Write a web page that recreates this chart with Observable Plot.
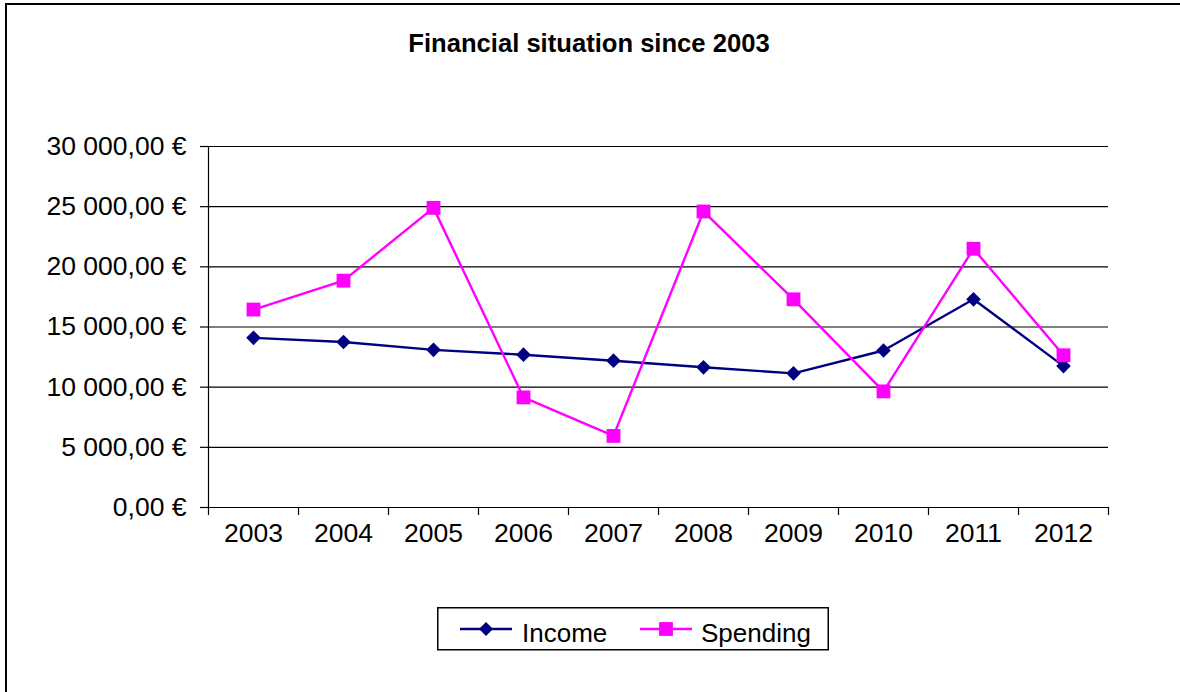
<!DOCTYPE html>
<html>
<head>
<meta charset="utf-8">
<script src="https://cdn.jsdelivr.net/npm/d3@7"></script>
<script src="https://cdn.jsdelivr.net/npm/@observablehq/plot@0.6"></script>
<style>
  html, body { margin: 0; padding: 0; background: #fff; }
  #wrap { position: relative; width: 1180px; height: 692px; overflow: hidden; font-family: "Liberation Sans", Arial, sans-serif; }
  #frame { position: absolute; left: 5px; top: 3px; width: 1300px; height: 800px; border-top: 2px solid #000; border-left: 2px solid #000; }
  #title { position: absolute; left: 0; width: 1178px; top: 31px; text-align: center; font-weight: bold; font-size: 25.6px; line-height: 1; color: #000; }
  #chart { position: absolute; left: 0; top: 0; }
  #legend { position: absolute; left: 437px; top: 607px; }
</style>
</head>
<body>
<div id="wrap">
  <div id="frame"></div>
  <div id="title">Financial situation since 2003</div>
  <div id="chart"></div>
  <div id="legend"></div>
</div>
<script>
// ---- data ----
const years = [2003, 2004, 2005, 2006, 2007, 2008, 2009, 2010, 2011, 2012];
const income = [14100, 13750, 13100, 12700, 12200, 11650, 11150, 13050, 17300, 11750];
const spending = [16450, 18850, 24900, 9150, 5950, 24600, 17300, 9650, 21500, 12650];
const yTicks = [0, 5000, 10000, 15000, 20000, 25000, 30000];
const seriesNames = ["Income", "Spending"];
const seriesColors = ["#000080", "#FF00FF"];

// ---- derived tables ----
const incomeRows = years.map((y, i) => ({year: y, value: income[i], series: "Income"}));
const spendingRows = years.map((y, i) => ({year: y, value: spending[i], series: "Spending"}));
const boundaries = years.map(y => y - 0.5).concat([years[years.length - 1] + 0.5]);

const locale = d3.formatLocale({decimal: ",", thousands: " ", grouping: [3], currency: ["", " €"]});
const euro = locale.format("$,.2f");

const chart = Plot.plot({
  width: 1180,
  height: 600,
  marginLeft: 208,
  marginRight: 72,
  marginTop: 146,
  marginBottom: 93,
  style: {fontFamily: "Liberation Sans, Arial, sans-serif", fontSize: "26px", color: "#000", background: "transparent", overflow: "visible"},
  x: {type: "linear", domain: [boundaries[0], boundaries[boundaries.length - 1]]},
  y: {domain: [0, 30000]},
  color: {domain: seriesNames, range: seriesColors},
  marks: [
    Plot.gridY(yTicks, {stroke: "#000", strokeOpacity: 1, strokeWidth: 1.2}),
    Plot.axisY(yTicks, {tickFormat: euro, tickSize: 8, tickPadding: 14, fontSize: 26.5, label: null, strokeWidth: 1.2}),
    Plot.ruleX([boundaries[0]], {stroke: "#000", strokeWidth: 1.2}),
    Plot.ruleY([0], {stroke: "#000", strokeWidth: 1.2}),
    Plot.axisX(boundaries, {tickSize: 8, tickFormat: () => "", label: null, strokeWidth: 1.2}),
    Plot.axisX(years, {tickSize: 0, tickPadding: 16, tickFormat: d => String(d), fontSize: 26.5, label: null}),
    Plot.line(incomeRows, {x: "year", y: "value", stroke: "series", strokeWidth: 2.4}),
    Plot.dot(incomeRows, {x: "year", y: "value", fill: "series", symbol: "diamond2", r: 6.6, stroke: "none"}),
    Plot.line(spendingRows, {x: "year", y: "value", stroke: "series", strokeWidth: 2.4}),
    Plot.dot(spendingRows, {x: "year", y: "value", fill: "series", symbol: "square", r: 7.8, stroke: "none"})
  ]
});
document.getElementById("chart").appendChild(chart);

// ---- legend ----
const ns = "http://www.w3.org/2000/svg";
const lg = document.createElementNS(ns, "svg");
lg.setAttribute("width", 392);
lg.setAttribute("height", 44);
lg.style.fontFamily = "Liberation Sans, Arial, sans-serif";
function el(tag, attrs) {
  const e = document.createElementNS(ns, tag);
  for (const k in attrs) e.setAttribute(k, attrs[k]);
  lg.appendChild(e);
  return e;
}
el("rect", {x: 0.75, y: 0.75, width: 390.5, height: 42, fill: "#fff", stroke: "#000", "stroke-width": 1.5});
const items = [
  {name: seriesNames[0], color: seriesColors[0], x0: 23, tx: 85, sym: "diamond"},
  {name: seriesNames[1], color: seriesColors[1], x0: 203, tx: 264, sym: "square"}
];
for (const it of items) {
  el("line", {x1: it.x0, x2: it.x0 + 52, y1: 22, y2: 22, stroke: it.color, "stroke-width": 2.4});
  const cx = it.x0 + 26;
  if (it.sym === "diamond") {
    el("path", {d: `M${cx},${22 - 7}L${cx + 7},22L${cx},${22 + 7}L${cx - 7},22Z`, fill: it.color});
  } else {
    el("rect", {x: cx - 6.9, y: 22 - 6.9, width: 13.8, height: 13.8, fill: it.color});
  }
  const t = el("text", {x: it.tx, y: 35, "font-size": 26, fill: "#000"});
  t.textContent = it.name;
}
document.getElementById("legend").appendChild(lg);
</script>
</body>
</html>
